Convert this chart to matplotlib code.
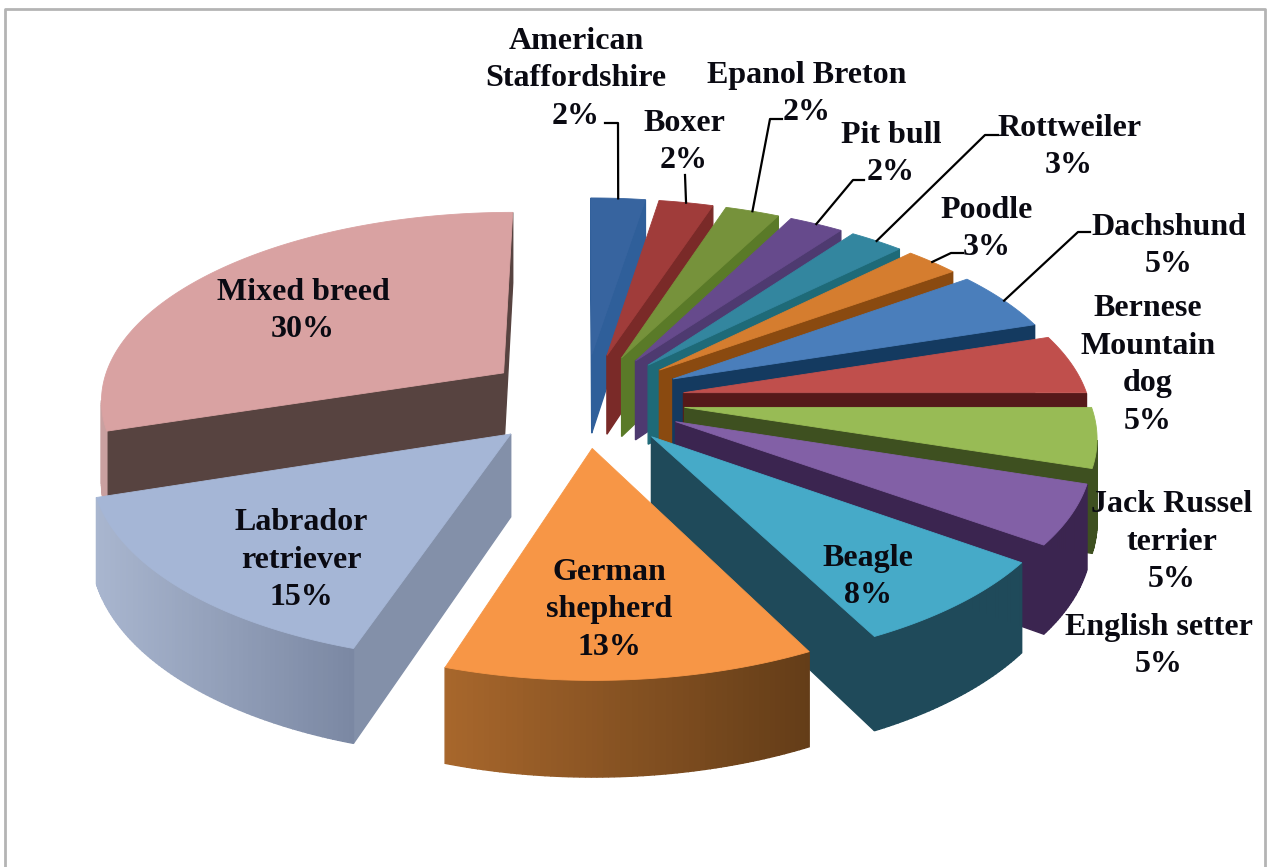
"""
Exploded 3D pie of dog breeds, built from projected wedges because
matplotlib has no perspective pie of its own.
"""

import numpy as np
import matplotlib.pyplot as plt
from matplotlib.colors import to_rgb
from matplotlib.patches import Polygon

plt.rcParams["font.family"] = ["Liberation Serif", "DejaVu Serif"]

# ---------------------------------------------------------------------
# Data, clockwise from the top
# ---------------------------------------------------------------------

breeds = [
    "American\nStaffordshire", "Boxer", "Epanol Breton", "Pit bull",
    "Rottweiler", "Poodle", "Dachshund", "Bernese\nMountain\ndog",
    "Jack Russel\nterrier", "English setter", "Beagle", "German\nshepherd",
    "Labrador\nretriever", "Mixed breed",
]
shares = [2.5, 2.5, 2.5, 2.5, 2.5, 2.5, 5.0, 5.0, 5.0, 5.0, 7.5, 12.5, 15.0, 30.0]
percent_labels = [
    "2%", "2%", "2%", "2%", "3%", "3%", "5%", "5%",
    "5%", "5%", "8%", "13%", "15%", "30%",
]

# ---------------------------------------------------------------------
# Styles
# ---------------------------------------------------------------------

top_colors = [
    "#37649f", "#a03c3a", "#76923b", "#664a8c", "#33869f", "#d57d2f", "#4a7ebb",
    "#c04f4c", "#98bb55", "#8260a6", "#46aac8", "#f79646", "#a5b6d6", "#d9a2a2",
]
wall_colors = [
    "#2f5f9a", "#7a2a28", "#5a7a28", "#4e3a70", "#1e6a78", "#8a4a10", "#143a60",
    "#55191a", "#3e5020", "#3b2550", "#1f4a5a", "#7a4a1e", "#8390a9", "#574340",
]
rim_left = list(wall_colors)
rim_right = list(wall_colors)
rim_left[11], rim_right[11] = "#a8672c", "#643d18"
rim_left[12], rim_right[12] = "#a9b6cf", "#7b88a3"
rim_left[13], rim_right[13] = "#c9a0a0", "#c9a0a0"

# label centre, then leader elbow points (None for labels inside the pie)
label_xy = [
    (576, 79), (684, 142), (807, 94), (891, 154), (1069, 147), (987, 229), (1169, 246),
    (1148, 365), (1172, 542), (1159, 646), (868, 577), (609, 610), (301, 560), (303, 311),
]
leaders = [
    [(618, 123), (605, 123)], [(685, 175)], [(770, 119), (782, 119)],
    [(853, 180), (864, 180)], [(985, 135), (998, 135)], [(951, 253), (963, 253)],
    [(1078, 232), (1090, 232)], None, None, None, None, None, None, None,
]

# Projection of the pie disc (radius 1) onto the image
CX, CY = 584, 400
RX, RY = 405, 188
PERSPECTIVE = 0.13
THICKNESS = 81
EXPLODE = 0.25


def project(x, y, drop=0.0):
    s = 1 / (1 + PERSPECTIVE * y)
    return CX + RX * x * s, CY - RY * y * s + THICKNESS * drop * s


def draw_wall(ax, top_a, top_b, color, zorder):
    # Top edge runs clockwise on screen, so visible walls have negative area.
    pts = np.array([
        project(*top_a), project(*top_b),
        project(*top_b, 1.0), project(*top_a, 1.0),
    ])
    x, y = pts[:, 0], pts[:, 1]
    area = 0.5 * np.sum(x * np.roll(y, -1) - np.roll(x, -1) * y)
    if area < 0:
        ax.add_patch(Polygon(pts, closed=True, fc=color, ec=color, lw=1.0, zorder=zorder))


# ---------------------------------------------------------------------
# Plot
# ---------------------------------------------------------------------

fig = plt.figure(figsize=(12.69, 8.67), dpi=100)
ax = fig.add_axes([0, 0, 1, 1])
ax.set_xlim(0, 1269)
ax.set_ylim(867, 0)
ax.axis("off")

# Frame of the original chart area
ax.plot([5, 5, 1265, 1265], [867, 9, 9, 867], color="#b4b4b4", lw=2, zorder=1)

edges = np.radians(np.concatenate([[0], np.cumsum(shares)]) / np.sum(shares) * 360)

# Back slices first, the two front slices last
draw_order = [13, 0, 1, 2, 3, 4, 5, 6, 7, 8, 9, 10, 12, 11]

for z, i in enumerate(draw_order):
    a0, a1 = edges[i], edges[i + 1]
    mid = (a0 + a1) / 2
    ox, oy = EXPLODE * np.sin(mid), EXPLODE * np.cos(mid)
    zorder = 2 + z

    t = np.linspace(a0, a1, max(int(np.degrees(a1 - a0) * 1.5), 6))
    rim_x = ox + np.sin(t)
    rim_y = oy + np.cos(t)

    # Radial walls
    draw_wall(ax, (ox, oy), (rim_x[0], rim_y[0]), wall_colors[i], zorder)
    draw_wall(ax, (rim_x[-1], rim_y[-1]), (ox, oy), wall_colors[i], zorder)

    # Outer wall in short strips, shaded from left to right on screen
    sx = project(rim_x, rim_y)[0]
    left, right = np.array(to_rgb(rim_left[i])), np.array(to_rgb(rim_right[i]))
    for j in range(len(t) - 1):
        f = (sx[j] - sx.min()) / max(sx.max() - sx.min(), 1)
        draw_wall(
            ax,
            (rim_x[j], rim_y[j]),
            (rim_x[j + 1], rim_y[j + 1]),
            tuple(left + (right - left) * f),
            zorder,
        )

    # Top face
    top_x, top_y = project(np.r_[ox, rim_x], np.r_[oy, rim_y])
    ax.add_patch(
        Polygon(
            np.c_[top_x, top_y],
            closed=True,
            fc=top_colors[i],
            ec=top_colors[i],
            lw=0.6,
            zorder=zorder,
        )
    )

    # Leader line from the middle of the rim
    if leaders[i] is not None:
        start = project(ox + np.sin(mid), oy + np.cos(mid))
        path = [start] + leaders[i]
        ax.plot(
            [p[0] for p in path],
            [p[1] for p in path],
            color="black",
            lw=1.6,
            zorder=30,
        )

for i, name in enumerate(breeds):
    ax.text(
        label_xy[i][0],
        label_xy[i][1],
        name + "\n" + percent_labels[i],
        ha="center",
        va="center",
        fontsize=23,
        fontweight="bold",
        color="#0a0a12",
        linespacing=1.39,
        zorder=40,
    )

fig.savefig("out.png", dpi=100)
